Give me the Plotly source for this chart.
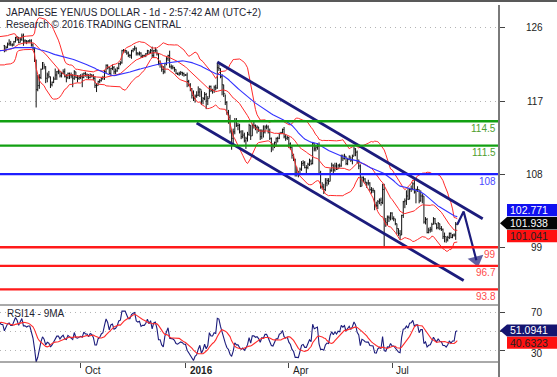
import pandas as pd
import numpy as np
import plotly.graph_objects as go

# ---------------- data (USD/JPY daily) ----------------
# warm-up closes (18 May 2015 - 24 Jul 2015) used only for the indicators
pre_close = [
    120.2, 120.8, 121.3, 121.0, 121.5,
    121.7, 123.0, 123.6, 124.0, 124.1,
    124.8, 124.0, 124.3, 124.6, 125.6,
    124.6, 124.3, 122.5, 123.4, 123.4,
    123.4, 123.4, 123.4, 122.7, 122.7,
    123.0, 123.9, 123.6, 123.7, 123.9,
    122.5, 122.5, 123.2, 123.2, 123.0,
    122.5, 122.5, 121.3, 121.0, 122.8,
    123.4, 123.4, 123.9, 124.0, 124.1,
    124.3, 124.0, 124.0, 123.8, 123.8]

# visible bars: 27 Jul 2015 - 29 Aug 2016 (weekdays)
close = [
    123.2, 123.6, 124.0, 124.1, 123.9,
    123.9, 124.3, 124.8, 124.6, 124.2,
    124.6, 125.0, 124.4, 124.4, 124.3,
    124.4, 124.4, 123.9, 123.4, 122.0,
    118.4, 118.9, 119.9, 120.9, 121.7,
    121.2, 119.8, 120.2, 120.0, 119.0,
    119.3, 119.7, 120.2, 120.6, 120.6,
    120.1, 120.4, 120.6, 120.0, 119.9,
    120.4, 120.2, 120.1, 119.8, 120.6,
    119.9, 119.8, 119.9, 120.0, 119.9,
    120.4, 120.2, 120.2, 119.9, 120.2,
    120.1, 119.8, 118.9, 118.9, 119.4,
    119.5, 119.8, 119.9, 120.6, 121.4,
    121.1, 120.4, 121.0, 121.1, 120.6,
    120.7, 121.0, 121.6, 121.7, 123.2,
    123.2, 123.2, 122.9, 122.6, 122.6,
    123.2, 123.4, 123.5, 122.9, 122.8,
    122.9, 122.5, 122.6, 122.6, 122.8,
    123.2, 122.9, 123.2, 122.6, 123.2,
    123.3, 122.8, 121.6, 121.6, 120.9,
    120.6, 121.6, 122.2, 122.6, 121.2,
    121.2, 121.1, 120.9, 120.4, 120.3,
    120.4, 120.5, 120.4, 120.2, 120.2,
    119.4, 119.0, 118.5, 117.7, 117.3,
    117.6, 117.7, 118.1, 118.4, 117.0,
    117.3, 117.8, 117.0, 117.3, 118.8,
    118.3, 118.3, 118.7, 118.6, 121.1,
    121.0, 120.0, 119.0, 117.9, 116.8,
    115.6, 115.0, 113.3, 112.4, 113.2,
    114.6, 114.0, 114.0, 113.2, 112.6,
    112.8, 112.1, 112.4, 112.9, 114.0,
    112.7, 114.0, 114.0, 113.7, 113.8,
    113.4, 112.6, 113.3, 113.2, 113.8,
    113.8, 113.2, 112.4, 111.6, 111.5,
    111.9, 112.4, 112.4, 113.0, 113.1,
    113.5, 112.6, 112.4, 112.5, 111.7,
    111.3, 110.3, 109.8, 108.1, 108.1,
    108.0, 108.6, 109.3, 109.4, 108.8,
    108.8, 109.2, 109.6, 109.3, 111.8,
    111.1, 111.3, 111.4, 108.1, 106.4,
    106.4, 106.1, 106.9, 107.2, 107.1,
    108.4, 109.1, 108.5, 109.0, 108.6,
    109.1, 109.0, 110.2, 109.9, 110.2,
    109.3, 109.8, 110.2, 109.7, 110.2,
    111.1, 110.7, 109.5, 109.0, 106.5,
    107.6, 107.4, 107.0, 106.9, 106.9,
    106.1, 106.0, 106.0, 104.2, 104.1,
    104.6, 104.8, 104.5, 106.1, 102.2,
    102.0, 102.7, 102.6, 103.2, 102.5,
    102.5, 101.9, 101.3, 100.7, 100.5,
    102.9, 104.6, 104.7, 105.3, 104.9,
    106.1, 106.2, 106.8, 105.8, 106.1,
    106.1, 104.7, 105.3, 105.3, 102.1,
    102.4, 100.8, 101.1, 101.2, 101.8,
    102.5, 101.9, 101.4, 101.9, 101.3,
    101.2, 100.3, 100.3, 99.9, 100.2,
    100.7, 100.2, 100.5, 100.5, 101.8,
    101.938]

high = [
    123.9, 123.8, 124.2, 124.6, 124.4,
    124.1, 124.4, 124.9, 125.0, 124.9,
    124.8, 125.3, 125.3, 124.6, 124.5,
    124.5, 124.6, 124.6, 124.1, 123.5,
    122.1, 120.2, 120.3, 121.0, 121.8,
    121.6, 121.3, 120.5, 120.7, 120.0,
    119.4, 120.0, 121.0, 120.7, 120.9,
    120.6, 120.6, 120.9, 121.0, 120.3,
    120.5, 120.5, 120.5, 120.3, 120.8,
    120.6, 120.2, 120.2, 120.3, 120.4,
    120.5, 120.6, 120.4, 120.3, 120.4,
    120.3, 120.3, 120.0, 119.2, 119.5,
    119.7, 119.9, 120.1, 120.8, 121.5,
    121.5, 121.2, 121.1, 121.5, 121.3,
    121.0, 121.2, 121.7, 121.9, 123.3,
    123.4, 123.3, 123.2, 123.1, 122.8,
    123.3, 123.5, 123.8, 123.6, 123.0,
    123.1, 123.0, 122.7, 122.7, 122.9,
    123.3, 123.2, 123.4, 123.7, 123.3,
    123.6, 123.3, 122.9, 122.0, 121.7,
    121.3, 121.7, 122.4, 122.7, 123.2,
    121.5, 121.4, 121.2, 120.9, 120.5,
    120.6, 120.7, 120.6, 120.5, 120.3,
    120.5, 119.6, 119.2, 118.6, 118.3,
    117.8, 118.2, 118.8, 118.6, 118.3,
    117.5, 118.1, 118.0, 117.6, 118.9,
    118.9, 118.5, 118.9, 119.0, 121.7,
    121.5, 121.0, 120.3, 119.0, 117.8,
    117.0, 115.9, 115.3, 113.5, 113.6,
    114.9, 114.9, 114.3, 114.2, 113.4,
    113.4, 113.1, 112.6, 113.2, 114.2,
    114.0, 114.2, 114.6, 114.1, 114.0,
    113.8, 113.5, 113.5, 114.0, 114.0,
    114.1, 114.0, 113.6, 112.5, 111.8,
    112.0, 112.5, 112.6, 113.1, 113.2,
    113.6, 113.8, 112.9, 112.7, 112.6,
    111.9, 111.4, 110.5, 109.9, 108.9,
    108.4, 108.8, 109.6, 109.7, 109.6,
    109.1, 109.4, 109.9, 109.8, 111.9,
    111.8, 111.5, 111.8, 111.9, 108.4,
    107.0, 106.8, 107.5, 107.5, 107.5,
    108.7, 109.4, 109.2, 109.4, 109.4,
    109.2, 109.3, 110.4, 110.4, 110.5,
    110.2, 110.0, 110.3, 110.1, 110.4,
    111.4, 111.2, 110.9, 109.8, 109.2,
    107.7, 107.7, 107.5, 107.0, 107.3,
    107.0, 106.4, 106.3, 106.0, 104.6,
    104.8, 105.0, 105.1, 106.8, 106.8,
    102.6, 102.9, 102.9, 103.3, 103.3,
    102.8, 102.5, 101.9, 101.3, 101.1,
    103.0, 104.7, 105.0, 106.0, 106.3,
    106.3, 106.6, 107.0, 107.5, 106.2,
    106.5, 106.1, 106.0, 105.6, 105.3,
    102.7, 102.6, 101.4, 101.5, 102.0,
    102.7, 102.6, 101.9, 102.1, 101.9,
    101.6, 101.3, 100.8, 100.3, 100.4,
    100.8, 100.8, 100.6, 100.7, 102.1,
    102.0]

low = [
    123.0, 123.1, 123.5, 123.8, 123.8,
    123.7, 123.8, 124.2, 124.4, 124.1,
    124.2, 124.4, 123.8, 124.1, 124.0,
    124.2, 124.2, 123.7, 123.3, 121.8,
    116.2, 118.2, 118.5, 119.7, 120.9,
    120.9, 119.2, 119.3, 119.8, 118.6,
    118.8, 119.2, 119.6, 119.6, 120.3,
    119.9, 119.9, 120.3, 119.9, 119.3,
    119.7, 119.7, 119.8, 118.7, 119.6,
    119.8, 119.3, 119.6, 119.7, 118.7,
    119.8, 120.0, 119.8, 119.7, 119.8,
    119.9, 119.6, 118.6, 118.1, 118.9,
    119.2, 119.4, 119.6, 119.6, 120.4,
    120.9, 120.3, 120.1, 120.8, 120.3,
    120.3, 120.6, 120.9, 121.4, 121.6,
    122.9, 122.9, 122.7, 122.4, 122.3,
    122.2, 123.0, 123.2, 122.6, 122.6,
    122.6, 122.3, 122.3, 122.4, 122.4,
    122.7, 122.8, 122.8, 122.3, 122.3,
    123.0, 122.6, 121.4, 121.1, 120.6,
    120.3, 120.4, 121.4, 121.9, 121.1,
    120.9, 120.9, 120.6, 120.3, 120.2,
    120.1, 120.2, 120.1, 120.0, 120.1,
    118.7, 118.8, 118.2, 117.3, 117.0,
    116.8, 117.4, 117.6, 117.5, 116.5,
    116.6, 117.1, 116.0, 116.5, 117.4,
    118.1, 117.9, 118.0, 118.3, 118.5,
    120.7, 119.8, 117.7, 117.5, 116.5,
    115.3, 114.2, 113.0, 111.0, 111.6,
    112.9, 113.8, 113.4, 113.0, 112.3,
    112.4, 111.9, 111.1, 112.0, 112.7,
    112.2, 112.7, 113.6, 113.4, 113.0,
    113.2, 112.2, 112.3, 112.5, 113.0,
    113.5, 113.0, 112.2, 110.7, 110.9,
    111.2, 111.5, 111.9, 112.3, 112.9,
    113.0, 112.4, 112.1, 112.2, 111.2,
    111.0, 109.9, 109.6, 107.7, 107.7,
    107.6, 107.9, 108.4, 109.0, 108.7,
    107.9, 108.6, 109.0, 109.1, 109.2,
    110.8, 110.8, 111.0, 107.9, 106.2,
    106.1, 105.55, 105.9, 106.5, 106.7,
    107.1, 108.3, 108.1, 108.3, 108.5,
    108.6, 108.8, 108.9, 109.6, 109.8,
    109.1, 109.1, 109.7, 109.5, 109.2,
    110.2, 110.2, 109.3, 108.6, 106.4,
    106.5, 107.0, 106.8, 106.3, 106.6,
    105.9, 105.6, 105.7, 103.55, 103.9,
    103.7, 104.3, 104.1, 104.3, 99.0,
    101.5, 101.7, 102.1, 102.3, 102.4,
    102.2, 101.7, 100.6, 100.4, 99.9,
    100.5, 102.6, 103.8, 104.2, 104.8,
    104.9, 105.8, 106.0, 105.6, 104.4,
    105.8, 104.4, 104.6, 104.4, 101.9,
    101.8, 100.7, 100.7, 100.8, 100.9,
    101.8, 101.8, 101.2, 101.2, 101.1,
    101.0, 100.0, 99.6, 99.55, 99.7,
    100.0, 100.1, 100.1, 100.3, 99.9,
    101.7]

# support / resistance levels
level_vals = [114.5, 111.5, 108, 99, 96.7, 93.8]
level_text = ["114.5", "111.5", "108", "99", "96.7", "93.8"]
level_line_colors = ["#12a012", "#12a012", "#1e1eff", "#ff1a1a", "#ff1a1a", "#ff1a1a"]
level_text_colors = ["#4e9e2e", "#4e9e2e", "#4a4aff", "#ff4a4a", "#ff4a4a", "#ff4a4a"]

# trend channel and forecast path
ch_up_dates = ["2016-01-29", "2016-09-20"]
ch_up_vals = [121.8, 102.5]
ch_lo_dates = ["2016-01-12", "2016-09-02"]
ch_lo_vals = [114.3, 94.9]
fc_dates = ["2016-08-29", "2016-09-02", "2016-09-14"]
fc_vals = [101.8, 103.4, 97.4]

# axis ticks
y_ticks = [126, 117, 108, 99]
rsi_ticks = [70, 50, 30]
rsi_tick_labels = [70, 30]          # the 50 label sits hidden behind the RSI tag
x_tick_dates = ["2015-10-01", "2016-01-01", "2016-04-01", "2016-07-01"]
x_tick_text = ["Oct", "<b>2016</b>", "Apr", "Jul"]

# last-value tags shown at the right edge
tag_sma = "102.771"
tag_last = "101.938"
tag_mid = "101.041"
tag_rsi = "51.0941"
tag_rsi_ma = "40.6323"

# ---------------- indicators ----------------
pre_dates = pd.bdate_range(end="2015-07-24", periods=len(pre_close))
dates = pd.bdate_range(start="2015-07-27", periods=len(close))
all_dates = pre_dates.append(dates)
s = pd.Series(pre_close + close, index=all_dates)

sma50 = s.rolling(50, min_periods=1).mean()
mid20 = s.rolling(20, min_periods=1).mean()
sd20 = s.rolling(20, min_periods=2).std(ddof=0)
bb_up = mid20 + 2 * sd20
bb_lo = mid20 - 2 * sd20

d = s.diff()
gain = d.clip(lower=0)
loss = (-d).clip(lower=0)
ag = gain.ewm(alpha=1 / 14, adjust=False).mean()
al = loss.ewm(alpha=1 / 14, adjust=False).mean()
rsi = 100 - 100 / (1 + ag / al)
rsi_ma = rsi.rolling(9).mean()

opens = [pre_close[-1]] + close[:-1]

NAVY = "#1c1c7c"
RED = "#ff2b2b"
BLUE = "#3434ff"

fig = go.Figure()

# price bars
fig.add_trace(go.Ohlc(x=dates, open=opens, high=high, low=low, close=close,
                      increasing_line_color="#111", decreasing_line_color="#111",
                      line_width=1, tickwidth=0.45, xaxis="x", yaxis="y",
                      hoverinfo="skip"))

# Bollinger bands + SMA
for ser in (bb_up, mid20, bb_lo):
    fig.add_trace(go.Scatter(x=all_dates, y=ser, mode="lines",
                             line=dict(color=RED, width=1), xaxis="x", yaxis="y"))
fig.add_trace(go.Scatter(x=all_dates, y=sma50, mode="lines",
                         line=dict(color=BLUE, width=1.1), xaxis="x", yaxis="y"))

# channel
for dx, vy in ((ch_up_dates, ch_up_vals), (ch_lo_dates, ch_lo_vals)):
    fig.add_trace(go.Scatter(x=dx, y=vy, mode="lines",
                             line=dict(color=NAVY, width=2.8), xaxis="x", yaxis="y"))

# forecast arrow
fig.add_trace(go.Scatter(x=fc_dates, y=fc_vals, mode="lines+markers",
                         line=dict(color=NAVY, width=2.2),
                         marker=dict(symbol=["circle", "circle", "triangle-up"],
                                     size=[0, 0, 14], color=NAVY, angleref="previous",
                                     line=dict(width=0)),
                         xaxis="x", yaxis="y"))

# RSI panel
fig.add_trace(go.Scatter(x=all_dates, y=rsi, mode="lines",
                         line=dict(color=NAVY, width=1.1), xaxis="x2", yaxis="y2"))
fig.add_trace(go.Scatter(x=all_dates, y=rsi_ma, mode="lines",
                         line=dict(color=RED, width=1.1), xaxis="x2", yaxis="y2"))

xr = ["2015-07-22 06:00", "2016-10-04 06:00"]
rb = [dict(bounds=["sat", "mon"])]
MAIN_BOTTOM = 57 / 360.0

fig.update_layout(
    width=557, height=377,
    margin=dict(l=0, r=58, t=2, b=15),
    paper_bgcolor="white", plot_bgcolor="white",
    showlegend=False,
    font=dict(family="Arial, Liberation Sans, sans-serif", size=10, color="#1e1e2a"),
    xaxis=dict(domain=[0, 1], anchor="y", range=xr, rangebreaks=rb,
               showticklabels=False, showgrid=False, zeroline=False, ticks="",
               rangeslider=dict(visible=False)),
    xaxis2=dict(domain=[0, 1], anchor="y2", matches="x", range=xr, rangebreaks=rb,
                tickvals=x_tick_dates, ticks="outside", ticklen=5, tickcolor="#444",
                tickwidth=1, showticklabels=False, showgrid=False, zeroline=False),
    yaxis=dict(domain=[MAIN_BOTTOM, 1], anchor="x", side="right",
               range=[91.88, 129.19], tickvals=y_ticks, ticks="outside", ticklen=5,
               tickcolor="#444", showticklabels=False, showgrid=True,
               gridcolor="#b4b4b4", griddash="1px,4px", zeroline=False),
    yaxis2=dict(domain=[0, MAIN_BOTTOM], anchor="x2", side="right",
                range=[18.7, 77.2], tickvals=rsi_ticks, ticks="outside", ticklen=5,
                tickcolor="#444", showticklabels=False, showgrid=True,
                gridcolor="#b4b4b4", griddash="1px,4px", zeroline=False),
)

shapes = []
for v, c in zip(level_vals, level_line_colors):
    shapes.append(dict(type="line", xref="paper", yref="y", x0=0, x1=1, y0=v, y1=v,
                       line=dict(color=c, width=2.4), layer="above"))
# frame lines
shapes.append(dict(type="line", xref="paper", yref="paper", x0=0, x1=1.2, y0=1.003, y1=1.003,
                   line=dict(color="#222", width=1.5)))
shapes.append(dict(type="line", xref="paper", yref="paper", x0=0, x1=1, y0=MAIN_BOTTOM, y1=MAIN_BOTTOM,
                   line=dict(color="#555", width=1)))
shapes.append(dict(type="line", xref="paper", yref="paper", x0=0, x1=1, y0=0, y1=0,
                   line=dict(color="#555", width=1)))
shapes.append(dict(type="line", xref="paper", yref="paper", x0=1, x1=1, y0=-0.045, y1=0.992,
                   line=dict(color="#7a7a7a", width=2)))

# right-edge value tags (boxes)
XP = 1 + 1.0 / 499   # tip
XB = 1 + 8.0 / 499   # box left
XE = 1.2
last_val = close[-1]
hm = 6.2 / 8.12      # half box height in price units
def rect(yc, h, color, yref):
    return dict(type="path", xref="paper", yref=yref, fillcolor=color, line=dict(width=0),
                path=f"M {XB},{yc-h} L {XE},{yc-h} L {XE},{yc+h} L {XB},{yc+h} Z")
def pointed(yc, h, color, yref):
    return dict(type="path", xref="paper", yref=yref, fillcolor=color, line=dict(width=0),
                path=f"M {XP},{yc} L {XB},{yc-h} L {XE},{yc-h} L {XE},{yc+h} L {XB},{yc+h} Z")

y_sma_tag = last_val + 2 * hm + 0.1
y_mid_tag = last_val - 2 * hm - 0.05
shapes.append(rect(y_sma_tag, hm, "#1010f0", "y"))
shapes.append(pointed(last_val, hm, "#050505", "y"))
shapes.append(rect(y_mid_tag, hm, "#ff1010", "y"))

hr = 6.0 * 40 / 39.0
y_rsi_tag = 51.0941
y_rsima_tag = y_rsi_tag - 2 * hr - 0.3
shapes.append(pointed(y_rsi_tag, hr, "#141470", "y2"))
shapes.append(rect(y_rsima_tag, hr, "#ff1010", "y2"))
fig.update_layout(shapes=shapes)

ann = []
# right axis labels
for v in y_ticks:
    ann.append(dict(xref="paper", yref="y", x=1, y=v, xanchor="right", yanchor="middle",
                    xshift=46, text=str(v), showarrow=False, font=dict(size=10, color="#222")))
for v in rsi_tick_labels:
    ann.append(dict(xref="paper", yref="y2", x=1, y=v, xanchor="right", yanchor="middle",
                    xshift=46, yshift=(-3 if v == 30 else 0), text=str(v), showarrow=False,
                    font=dict(size=10, color="#222")))
# level labels
for v, t, c in zip(level_vals, level_text, level_text_colors):
    ann.append(dict(xref="paper", yref="y", x=1, y=v, xanchor="right", yanchor="middle",
                    xshift=-1, yshift=-7, text=t, showarrow=False, font=dict(size=10, color=c)))
# tag texts
for yv, t, c, yr in ((y_sma_tag, tag_sma, "white", "y"), (last_val, tag_last, "white", "y"),
                     (y_mid_tag, tag_mid, "#222", "y"), (y_rsi_tag, tag_rsi, "white", "y2"),
                     (y_rsima_tag, tag_rsi_ma, "#222", "y2")):
    ann.append(dict(xref="paper", yref=yr, x=1, y=yv, xanchor="center", yanchor="middle",
                    xshift=30, text=t, showarrow=False, font=dict(size=10.5, color=c)))
# x labels
for dte, t in zip(x_tick_dates, x_tick_text):
    ann.append(dict(xref="x2", yref="paper", x=dte, y=0, xanchor="left", yanchor="middle",
                    xshift=2, yshift=-8, text=t, showarrow=False, font=dict(size=10, color="#222")))
# header texts
ann.append(dict(xref="paper", yref="paper", x=0, y=1, xanchor="left", yanchor="middle",
                xshift=4, yshift=-10, text="JAPANESE YEN/US DOLLAR - 1d - 2:57:42 AM (UTC+2)",
                showarrow=False, font=dict(size=10, color="#1e1e30")))
ann.append(dict(xref="paper", yref="paper", x=0, y=1, xanchor="left", yanchor="middle",
                xshift=4, yshift=-22, text="Research \u00a9 2016 TRADING CENTRAL",
                showarrow=False, font=dict(size=10, color="#1e1e30")))
ann.append(dict(xref="paper", yref="paper", x=0, y=MAIN_BOTTOM, xanchor="left", yanchor="middle",
                xshift=5, yshift=-8, text="RSI14 - 9MA",
                showarrow=False, font=dict(size=10, color="#1e1e30")))
fig.update_layout(annotations=ann)

fig.write_html("out.html", config={"displayModeBar": False},
               post_script="document.body.style.margin='0';document.body.style.overflow='hidden';")
